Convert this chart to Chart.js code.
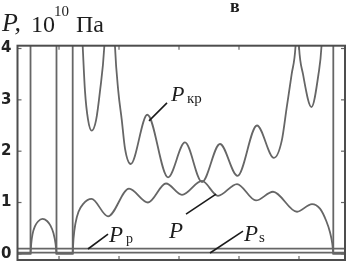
<!DOCTYPE html>
<html>
<head>
<meta charset="utf-8">
<script src="https://cdn.jsdelivr.net/npm/chart.js@4"></script>
<style>
    body { margin: 0; background: #fff; }
    #wrap { position: relative; width: 346px; height: 263px; }
    #chart { position: absolute; left: 0; top: 0; }
    .lbl { position: absolute; font-family: "Liberation Serif", "Times New Roman", serif; line-height: 1; color: #1e1e1e; white-space: nowrap; }
    .it { font-style: italic; }
</style>
</head>
<body>
<div id="wrap">
    <canvas id="chart" width="346" height="263"></canvas>

    <!-- axis title -->
    <span class="lbl it" style="left:2px;top:10px;font-size:26px">P,</span>
    <span class="lbl" style="left:31px;top:12px;font-size:24px">10</span>
    <span class="lbl" style="left:54px;top:4px;font-size:15px">10</span>
    <span class="lbl" style="left:76px;top:12px;font-size:24px">Па</span>
    <span class="lbl" style="left:230px;top:-3px;font-size:18px;font-weight:bold">в</span>

    <!-- curve labels -->
    <span class="lbl it" style="left:171px;top:83px;font-size:22px">P</span>
    <span class="lbl" style="left:187px;top:91px;font-size:15px">кр</span>
    <span class="lbl it" style="left:169px;top:219px;font-size:23px">P</span>
    <span class="lbl it" style="left:109px;top:223px;font-size:23px">P</span>
    <span class="lbl" style="left:126px;top:232px;font-size:14px">р</span>
    <span class="lbl it" style="left:244px;top:222px;font-size:23px">P</span>
    <span class="lbl" style="left:259px;top:230px;font-size:15px">s</span>
</div>
<script>
// x in tick units (ticks at 1..5, no labels), y in 10^10 Pa
const xTicks = [1, 2, 3, 4, 5];
const yTicks = [0, 1, 2, 3, 4];
const X_MIN = 0.308, X_MAX = 5.767;
const Y_MIN = -0.12, Y_MAX = 4.055;

// P: small arch, then the long wavy part
const pArchX = [0.525, 0.537, 0.558, 0.6, 0.65, 0.725, 0.8, 0.858, 0.908, 0.942, 0.958];
const pArchY = [0, 0.2, 0.38, 0.54, 0.63, 0.68, 0.64, 0.55, 0.4, 0.2, 0];
const pMainX = [1.228, 1.242, 1.275, 1.325, 1.4, 1.542, 1.817, 2.167, 2.483, 2.783, 3.05, 3.383, 3.65,
                3.967, 4.283, 4.567, 4.967, 5.217, 5.35, 5.455, 5.517, 5.555, 5.572];
const pMainY = [0, 0.3, 0.6, 0.82, 0.97, 1.07, 0.73, 1.27, 1.0, 1.37, 1.15, 1.42, 1.13,
                1.36, 1.04, 1.21, 0.82, 0.97, 0.88, 0.64, 0.42, 0.2, 0];

// P_kr: pieces run off the top of the plot (values above Y_MAX)
const pkrWell1X = [1.372, 1.395, 1.433, 1.483, 1.545, 1.617, 1.683, 1.755, 1.775];
const pkrWell1Y = [4.6, 4.04, 3.17, 2.62, 2.40, 2.6, 3.17, 4.04, 4.6];
const pkrMainX = [1.917, 1.933, 1.988, 2.045, 2.1, 2.195, 2.472, 2.817, 3.1, 3.383, 3.683, 3.975,
                  4.3, 4.583, 4.712, 4.795, 4.878, 4.942, 4.963];
const pkrMainY = [4.6, 4.04, 3.17, 2.62, 2.05, 1.75, 2.71, 1.49, 2.17, 1.40, 2.14, 1.52,
                  2.50, 1.87, 2.2, 2.85, 3.5, 4.04, 4.6];
const pkrWell3X = [4.98, 5.0, 5.067, 5.208, 5.325, 5.375, 5.395];
const pkrWell3Y = [4.6, 4.04, 3.5, 2.86, 3.5, 4.04, 4.6];
// zero stretches and vertical jumps of P_kr (null = break)
const wallX = [0.308, 0.525, 0.525, null, 0.958, 0.958, 1.228, 1.228, null, 5.572, 5.572, 5.767];
const wallY = [0, 0, 4.6, null, 4.6, 0, 0, 4.6, null, 4.6, 0, 0];

const pRupture = 0.1;   // P_p
const pS = 0.025;       // P_s

// leader lines [x1, y1, x2, y2] in data units
const leaderLines = [
    [2.8, 2.94, 2.5, 2.59],
    [3.117, 0.775, 3.617, 1.165],
    [1.483, 0.094, 1.817, 0.386],
    [3.517, 0.016, 4.067, 0.444]
];

const CURVE = '#666';

class PressureChart {
    constructor(canvasId) {
        this.canvas = document.getElementById(canvasId);
        this.chart = null;
        this.init();
    }

    init() {
        this.chart = new Chart(this.canvas.getContext('2d'), {
            type: 'scatter',
            data: { datasets: this.buildDatasets() },
            options: this.buildOptions(),
            plugins: [this.framePlugin()]
        });
    }

    points(xs, ys) {
        return xs.map((x, i) => ({ x: x, y: ys[i] }));
    }

    series(xs, ys, smooth) {
        return {
            data: this.points(xs, ys),
            showLine: true,
            borderColor: CURVE,
            borderWidth: 1.8,
            pointRadius: 0,
            tension: 0,
            cubicInterpolationMode: smooth ? 'monotone' : 'default'
        };
    }

    buildDatasets() {
        return [
            this.series(pArchX, pArchY, true),
            this.series(pMainX, pMainY, true),
            this.series(pkrWell1X, pkrWell1Y, true),
            this.series(pkrMainX, pkrMainY, true),
            this.series(pkrWell3X, pkrWell3Y, true),
            this.series(wallX, wallY, false),
            this.series([X_MIN, X_MAX], [pRupture, pRupture], false),
            this.series([X_MIN, X_MAX], [pS, pS], false)
        ];
    }

    buildOptions() {
        return {
            responsive: false,
            animation: false,
            devicePixelRatio: 1,
            events: [],
            layout: { autoPadding: false, padding: { top: 45.7, right: 1, bottom: 3, left: 0 } },
            plugins: { legend: { display: false }, tooltip: { enabled: false } },
            scales: {
                x: {
                    type: 'linear',
                    min: X_MIN,
                    max: X_MAX,
                    display: false,
                    grid: { drawTicks: false },
                    ticks: { display: false }
                },
                y: {
                    type: 'linear',
                    min: Y_MIN,
                    max: Y_MAX,
                    // fixed axis width; the tick labels may hang over the plot edges
                    afterFit: (s) => {
                        s.width = 17.5;
                        s.paddingTop = 0;
                        s.paddingBottom = 0;
                    },
                    afterBuildTicks: (s) => { s.ticks = yTicks.map(v => ({ value: v })); },
                    grid: { display: false, drawTicks: false },
                    border: { display: false },
                    ticks: {
                        padding: 6,
                        color: '#222',
                        font: { family: 'DejaVu Sans', weight: 'bold', size: 15 }
                    }
                }
            }
        };
    }

    // box frame, inward ticks and the label leader lines
    framePlugin() {
        return {
            id: 'frame',
            afterDatasetsDraw(chart) {
                const { ctx, chartArea: a } = chart;
                const sx = chart.scales.x, sy = chart.scales.y;
                const seg = (x1, y1, x2, y2) => {
                    ctx.beginPath();
                    ctx.moveTo(x1, y1);
                    ctx.lineTo(x2, y2);
                    ctx.stroke();
                };
                ctx.save();

                ctx.strokeStyle = '#1a1a1a';
                ctx.lineWidth = 1.6;
                leaderLines.forEach(([x1, y1, x2, y2]) => {
                    seg(sx.getPixelForValue(x1), sy.getPixelForValue(y1),
                        sx.getPixelForValue(x2), sy.getPixelForValue(y2));
                });

                ctx.strokeStyle = '#666';
                ctx.lineWidth = 1.2;
                xTicks.forEach(v => {
                    const px = sx.getPixelForValue(v);
                    seg(px, a.bottom, px, a.bottom - 4);
                    seg(px, a.top, px, a.top + 4);
                });
                yTicks.forEach(v => {
                    const py = sy.getPixelForValue(v);
                    seg(a.left, py, a.left + 4, py);
                    seg(a.right, py, a.right - 4, py);
                });

                ctx.strokeStyle = '#4d4d4d';
                ctx.lineWidth = 2;
                ctx.strokeRect(a.left, a.top, a.right - a.left, a.bottom - a.top);
                ctx.restore();
            }
        };
    }
}

new PressureChart('chart');
</script>
</body>
</html>
